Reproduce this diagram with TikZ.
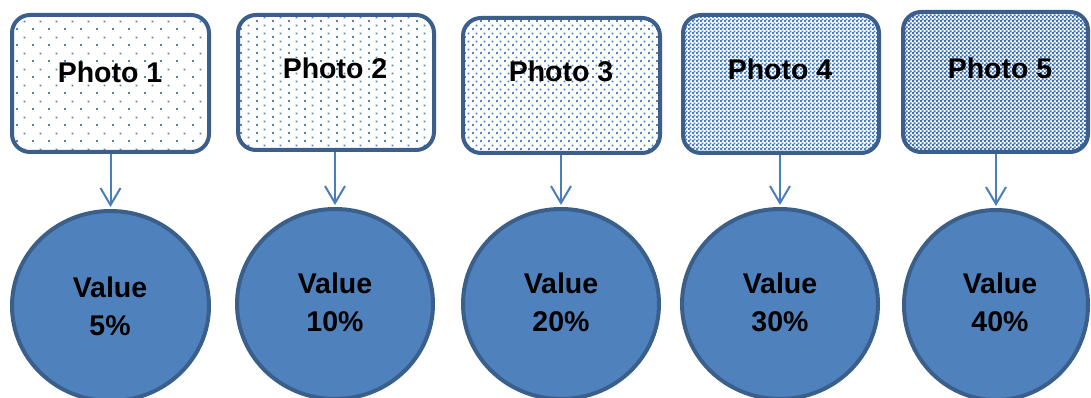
\documentclass[tikz,border=0pt]{standalone}
\usepackage{fontspec}
\setmainfont{Liberation Sans}
\usetikzlibrary{shapes.geometric,arrows.meta,patterns.meta}
\definecolor{boxborder}{HTML}{3B5E8C}
\definecolor{patblue}{HTML}{4F81BD}
\definecolor{patdark}{HTML}{4474B0}
\definecolor{circfill}{HTML}{4F81BD}
\definecolor{circborder}{HTML}{3A5F8B}
\definecolor{arrowblue}{HTML}{4A7EBB}
\tikzdeclarepattern{name=dotsA,type=uncolored,bottom left={(0pt,0pt)},top right={(16pt,16pt)},tile size={(16pt,16pt)},
  code={\pgfpathrectangle{\pgfpoint{0pt}{0pt}}{\pgfpoint{2pt}{2pt}}\pgfpathrectangle{\pgfpoint{8pt}{8pt}}{\pgfpoint{2pt}{2pt}}\pgfusepath{fill}}}
\tikzdeclarepattern{name=dotsB,type=uncolored,bottom left={(0pt,0pt)},top right={(16pt,8pt)},tile size={(16pt,8pt)},
  code={\pgfpathrectangle{\pgfpoint{0pt}{0pt}}{\pgfpoint{2pt}{2pt}}\pgfpathrectangle{\pgfpoint{8pt}{4pt}}{\pgfpoint{2pt}{2pt}}\pgfusepath{fill}}}
\tikzdeclarepattern{name=dotsC,type=uncolored,bottom left={(0pt,0pt)},top right={(8pt,8pt)},tile size={(8pt,8pt)},
  code={\pgfpathrectangle{\pgfpoint{0pt}{0pt}}{\pgfpoint{2pt}{2pt}}\pgfpathrectangle{\pgfpoint{4pt}{4pt}}{\pgfpoint{2pt}{2pt}}\pgfusepath{fill}}}
\tikzdeclarepattern{name=checkD,type=uncolored,bottom left={(0pt,0pt)},top right={(4pt,4pt)},tile size={(4pt,4pt)},
  code={\pgfpathrectangle{\pgfpoint{0pt}{0pt}}{\pgfpoint{2.2pt}{2.2pt}}\pgfpathrectangle{\pgfpoint{2pt}{2pt}}{\pgfpoint{2.2pt}{2.2pt}}\pgfusepath{fill}}}
\tikzdeclarepattern{name=checkE,type=uncolored,bottom left={(0pt,0pt)},top right={(4pt,4pt)},tile size={(4pt,4pt)},
  code={\pgfpathrectangle{\pgfpoint{0pt}{0pt}}{\pgfpoint{2.4pt}{2.4pt}}\pgfpathrectangle{\pgfpoint{2pt}{2pt}}{\pgfpoint{2.4pt}{2.4pt}}\pgfusepath{fill}}}
\tikzset{
  photobox/.style={draw=boxborder,line width=4pt,rounded corners=18pt,rectangle,inner sep=0pt},
  phototext/.style={font=\fontsize{28.5}{34}\selectfont\bfseries,inner sep=0pt},
  valuecirc/.style={ellipse,draw=circborder,fill=circfill,line width=4pt,inner sep=0pt},
  valuetext/.style={font=\fontsize{28.5}{38}\selectfont\bfseries,align=center,inner sep=0pt},
  link/.style={draw=arrowblue,line width=2pt,-{Straight Barb[length=17pt,width=20pt,line width=2pt]}}
}
\begin{document}
\begin{tikzpicture}[x=1pt,y=1pt]
\useasboundingbox[fill=white] (0,0) rectangle (1091,-398);
% boxes
\node[photobox,pattern=dotsA,pattern color=patblue,minimum width=197pt,minimum height=137pt] (b1) at (110.5,-83.5) {};
\node[photobox,pattern=dotsB,pattern color=patblue,minimum width=196pt,minimum height=135pt] (b2) at (336,-82.5) {};
\node[photobox,pattern=dotsC,pattern color=patblue,minimum width=197pt,minimum height=135pt] (b3) at (561.5,-85.5) {};
\node[photobox,pattern=checkD,pattern color=patblue,minimum width=196pt,minimum height=138pt] (b4) at (781,-84) {};
\node[photobox,pattern=checkE,pattern color=patdark,minimum width=185pt,minimum height=140pt] (b5) at (995.5,-82) {};
% box texts
\node[phototext] (t1) at (110,-72) {Photo 1};
\node[phototext] (t2) at (335,-68) {Photo 2};
\node[phototext] (t3) at (561,-71) {Photo 3};
\node[phototext] (t4) at (780,-69) {Photo 4};
\node[phototext] (t5) at (1000,-68) {Photo 5};
% circles
\node[valuecirc,minimum width=197pt,minimum height=190pt] (c1) at (110.5,-306) {};
\node[valuecirc,minimum width=196pt,minimum height=190pt] (c2) at (335,-304) {};
\node[valuecirc,minimum width=196pt,minimum height=190pt] (c3) at (561,-304) {};
\node[valuecirc,minimum width=196pt,minimum height=190pt] (c4) at (780,-304) {};
\node[valuecirc,minimum width=184pt,minimum height=190pt] (c5) at (996,-305) {};
% circle texts
\node[valuetext] (v1) at (110,-306) {Value\\5\%};
\node[valuetext] (v2) at (335,-302) {Value\\10\%};
\node[valuetext] (v3) at (561,-302) {Value\\20\%};
\node[valuetext] (v4) at (780,-302) {Value\\30\%};
\node[valuetext] (v5) at (1000,-302) {Value\\40\%};
% arrows
\draw[link] (b1.south -| c1.north) -- ([yshift=2pt]c1.north);
\draw[link] (b2.south -| c2.north) -- ([yshift=2pt]c2.north);
\draw[link] (b3.south -| c3.north) -- ([yshift=2pt]c3.north);
\draw[link] (b4.south -| c4.north) -- ([yshift=2pt]c4.north);
\draw[link] (b5.south -| c5.north) -- ([yshift=2pt]c5.north);
\end{tikzpicture}
\end{document}
